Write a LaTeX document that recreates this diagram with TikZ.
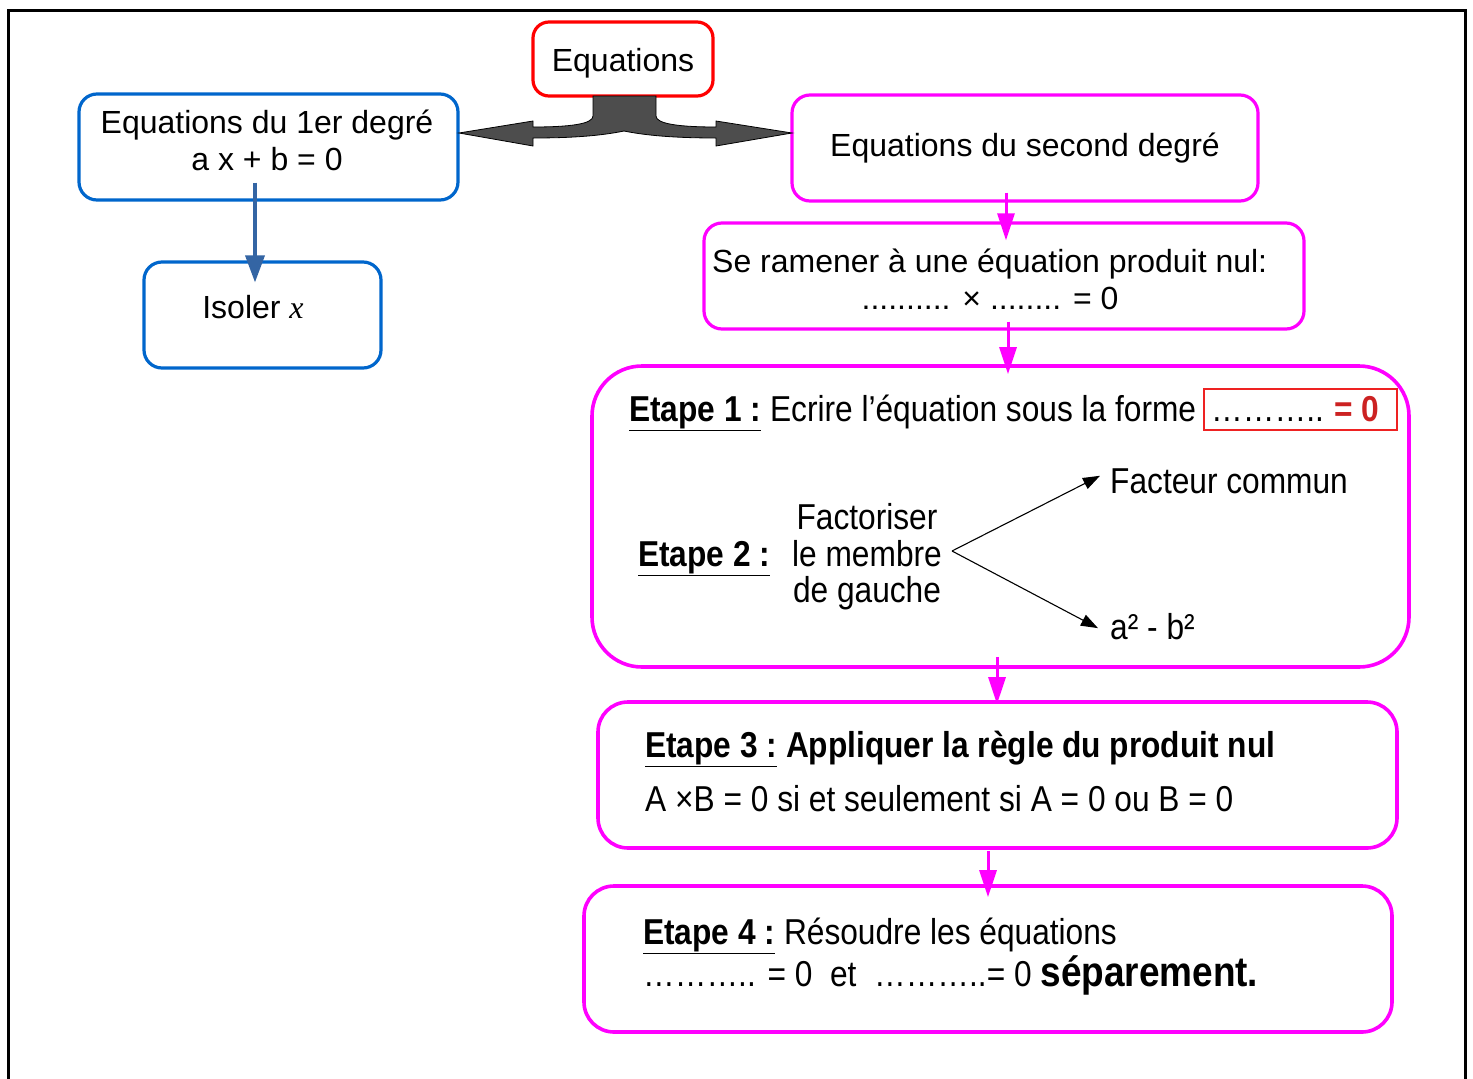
\documentclass[tikz,border=0pt]{standalone}
\usepackage{fontspec}
\setmainfont{Liberation Sans}
\newfontfamily\nar[FakeStretch=0.88]{Liberation Sans}
\newfontfamily\tim{Liberation Serif}
\usetikzlibrary{arrows.meta,calc}
\definecolor{mag}{HTML}{FF00FF}
\definecolor{bluebox}{HTML}{0066CC}
\definecolor{bluearr}{HTML}{3465A4}
\definecolor{darkarr}{HTML}{4D4D4D}
\definecolor{redtxt}{HTML}{CC2222}
\begin{document}
\begin{tikzpicture}[x=1pt,y=-1pt,
  box/.style={draw,rounded corners=18pt,line width=3.2pt,inner sep=0pt,align=center,
     font=\fontsize{32}{37}\selectfont},
  bbox/.style={box,draw=bluebox},
  mbox/.style={box,draw=mag},
  ebox/.style={draw=mag,line width=3.6pt,inner sep=0pt},
  txt/.style={inner sep=0pt,anchor=base west,font=\fontsize{32}{37}\selectfont},
  etxt/.style={inner sep=0pt,anchor=base west,font=\nar\fontsize{36}{40}\selectfont},
  magarrow/.style={draw=mag,line width=3pt,-{Triangle[length=27pt,width=17pt]}},
  bluearrow/.style={draw=bluearr,line width=3.6pt,-{Triangle[length=27pt,width=19pt]}},
  forkarrow/.style={draw=black,line width=1.1pt,-{Triangle[length=17pt,width=12pt]}}
]
\useasboundingbox (0,0) rectangle (1473,1079);
\fill[white] (0,0) rectangle (1473,1079);
% outer frame
\draw[line width=3pt] (8,1079) -- (8,10) -- (1465,10) -- (1465,1079);

% top boxes
\node[box,draw=red,rounded corners=16pt,minimum width=180pt,minimum height=74pt] (eqs) at (623,59) {};
\node[txt,anchor=base] (eqst) at (623,71) {Equations};

\node[bbox,minimum width=379pt,minimum height=106pt] (eq1) at (268.5,147) {};
\node[txt,anchor=base] (eq1a) at (267,133) {Equations du 1er degré};
\node[txt,anchor=base] (eq1b) at (267,170) {a x + b = 0};

\node[bbox,minimum width=237pt,minimum height=106pt] (iso) at (262.5,315) {};
\node[txt,anchor=base] (isot) at (253,318) {Isoler {\tim\itshape x}};

\node[mbox,minimum width=466pt,minimum height=106pt] (sec) at (1025,148) {};
\node[txt,anchor=base] (sect) at (1025,156) {Equations du second degré};

\node[mbox,minimum width=600pt,minimum height=106pt] (ram) at (1004,276) {};
\node[txt] (rama) at (712,272) {Se ramener à une équation produit nul:};
\node[txt,anchor=base] (ramb) at (990,309) {.......... × ........ = 0};

% big double arrow
\draw[fill=darkarr,draw=black,line width=0.8pt]
  (593,96) -- (593,116) .. controls (593,124) and (570,127) .. (533,127)
  -- (533,121) -- (459,133) -- (533,146) -- (533,138)
  .. controls (570,138) and (600,136) .. (624,131)
  .. controls (648,136) and (680,138) .. (716,138)
  -- (716,146) -- (792,133) -- (716,121) -- (716,127)
  .. controls (680,127) and (656,124) .. (656,116) -- (656,96) -- cycle;

% Etape 1-2 box
\node[ebox,rounded corners=50pt,minimum width=817pt,minimum height=301pt] (e12) at (1000.5,516.5) {};
\node[draw={rgb,255:red,238;green,34;blue,34},line width=2pt,minimum width=193pt,minimum height=41pt,inner sep=0pt] (redbox) at (1300,409) {};
\node[etxt] (e1) at (629,421) {\underline{\textbf{Etape 1 :}} Ecrire l’équation sous la forme};
\node[etxt] (e1dots) at (1211,421) {………..};
\node[etxt,text=redtxt] (e1zero) at (1334,421) {\textbf{= 0}};

\node[etxt] (e2) at (638,566) {\underline{\textbf{Etape 2 :}}};
\node[inner sep=0pt,align=center,font=\nar\fontsize{36}{36.5}\selectfont] (fact) at (867,557) {Factoriser\\le membre\\de gauche};
\coordinate (fork) at (952,551);
\node[etxt] (fc) at (1110,493) {Facteur commun};
\node[etxt] (ab) at (1110,639) {a² - b²};
\draw[forkarrow] (fork) -- ([xshift=-10pt,yshift=5pt]fc.west);
\draw[forkarrow] (fork) -- ([xshift=-12pt,yshift=-2pt]ab.west);

% Etape 3
\node[ebox,rounded corners=30pt,minimum width=799pt,minimum height=146pt] (e3) at (997.5,775) {};
\node[etxt] (e3a) at (645,757) {\underline{\textbf{Etape 3 :}} \textbf{Appliquer la règle du produit nul}};
\node[etxt] (e3b) at (645,811) {A ×B = 0 si et seulement si A = 0 ou B = 0};

% Etape 4
\node[ebox,rounded corners=30pt,minimum width=808pt,minimum height=146pt] (e4) at (988,959) {};
\node[etxt] (e4a) at (643,944) {\underline{\textbf{Etape 4 :}} Résoudre les équations};
\node[etxt] (e4b) at (643,986) {……….. = 0\ \ et\ \ ………..= 0 {\fontsize{42}{44}\selectfont\textbf{séparement.}}};

% connectors
\draw[bluearrow] ([xshift=-13.5pt,yshift=19pt]eq1.south) -- ([xshift=-7.5pt,yshift=-22pt]iso.north);
\draw[magarrow] ([xshift=-19pt,yshift=10pt]sec.south) -- ([xshift=2pt,yshift=-19pt]ram.north);
\draw[magarrow] ([xshift=4pt,yshift=9pt]ram.south) -- ([xshift=7.5pt,yshift=-10pt]e12.north);
\draw[magarrow] ([xshift=-3.5pt,yshift=12pt]e12.south) -- ([xshift=-0.5pt,yshift=-4pt]e3.north);
\draw[magarrow] ([xshift=-9.5pt,yshift=-1pt]e3.south) -- ([yshift=-13pt]e4.north);
\end{tikzpicture}
\end{document}
